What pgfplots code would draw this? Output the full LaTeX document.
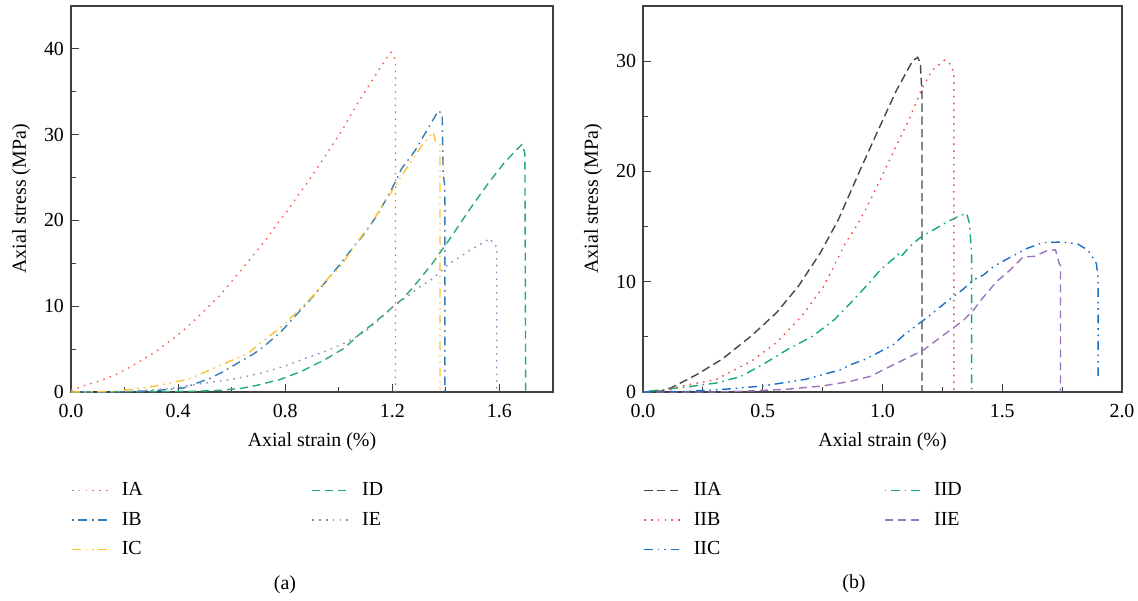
\documentclass[border=0pt]{standalone}
\usepackage{fontspec}
\setmainfont{Liberation Serif}
\usepackage{pgfplots}
\pgfplotsset{compat=1.18}

\definecolor{cIA}{RGB}{240,100,90}
\definecolor{cIB}{RGB}{55,125,180}
\definecolor{cIC}{RGB}{250,195,50}
\definecolor{cID}{RGB}{40,170,115}
\definecolor{cIE}{RGB}{140,140,195}
\definecolor{cIIA}{RGB}{70,70,70}
\definecolor{cIIB}{RGB}{240,80,75}
\definecolor{cIIC}{RGB}{25,110,195}
\definecolor{cIID}{RGB}{20,170,115}
\definecolor{cIIE}{RGB}{155,115,190}

\pgfplotsset{
  panel/.style={
    scale only axis,
    height=193bp,
    ymin=0,
    xmin=0,
    axis line style={black!75, line width=0.6bp},
    every tick/.style={black!75, line width=0.6bp},
    tick align=inside,
    xtick pos=bottom, ytick pos=left,
    minor tick num=1,
    major tick length=4bp, minor tick length=2.5bp,
    font=\fontsize{10}{12}\selectfont,
    tick label style={font=\fontsize{10}{12}\selectfont},
    /pgf/number format/assume math mode=true,
    xticklabel style={yshift=-2.5bp, /pgf/number format/fixed, /pgf/number format/fixed zerofill, /pgf/number format/precision=1},
    xlabel={Axial strain (\%)},
    ylabel={Axial stress (MPa)},
    xlabel style={at={(axis description cs:0.5,0)}, anchor=center, yshift=-25bp},
    ylabel style={at={(axis description cs:0,0.5)}, anchor=center, yshift=25bp},
    legend columns=2,
    legend cell align=left,
    legend style={draw=none, fill=none, inner sep=0pt,
      at={(axis description cs:0,0)}, anchor=north west, yshift=-44.5bp,
      font=\fontsize{10}{12}\selectfont,
      nodes={inner sep=0pt, text height=7bp, text depth=2bp},
      row sep=5.8bp,
      /tikz/every odd column/.append style={column sep=6.5bp}},
    legend image code/.code={\draw[##1] (0bp,0bp) -- (18bp,0bp);},
    every axis plot/.append style={line width=0.7bp},
  },
  sdot/.style={dash pattern=on 0.8bp off 2.6bp},
  sdashdot/.style={dash pattern=on 0.8bp off 2.4bp on 4.4bp off 2.4bp},
  sdashdotdot/.style={dash pattern=on 4.4bp off 2.4bp on 0.8bp off 2.4bp on 0.8bp off 2.4bp},
  sdash/.style={dash pattern=on 4bp off 2.5bp},
}

\begin{document}
\begin{tikzpicture}
\begin{axis}[panel, at={(35.5bp,0bp)}, anchor=south west,
    width=241bp, xmax=1.8, ymax=45,
    xtick={0,0.4,0.8,1.2,1.6}, ytick={0,10,20,30,40}]
  \addplot[cIA, sdot] coordinates {(0,0.2) (0.05,0.75) (0.114,1.35) (0.173,2.1) (0.22,2.9) (0.27,3.8) (0.323,4.85) (0.37,5.97) (0.419,7.17) (0.466,8.5) (0.512,9.9) (0.554,11.2) (0.595,12.7) (0.635,14.2) (0.692,16.4) (0.732,17.9) (0.77,19.6) (0.81,21.2) (0.847,22.9) (0.885,24.5) (0.949,27.5) (1.01,30.4) (1.065,33.4) (1.126,36.4) (1.18,39.0) (1.195,39.6) (1.205,39.2) (1.212,38.6) (1.212,0)};
  \addlegendentry{\makebox[95bp][l]{IA}}
  \addplot[cID, sdash] coordinates {(0,0) (0.35,0.05) (0.45,0.08) (0.56,0.2) (0.64,0.45) (0.69,0.75) (0.78,1.45) (0.86,2.4) (0.95,3.8) (1.02,5.1) (1.08,6.8) (1.13,8.0) (1.19,9.6) (1.24,10.9) (1.28,12.3) (1.35,15.0) (1.42,18.1) (1.5,21.8) (1.56,24.4) (1.62,26.8) (1.685,28.9) (1.695,27.8) (1.698,0)};
  \addlegendentry{ID}
  \addplot[cIB, sdashdot] coordinates {(0,0) (0.2,0.03) (0.31,0.15) (0.42,0.47) (0.52,1.6) (0.57,2.4) (0.635,3.6) (0.685,4.5) (0.72,5.3) (0.785,7.05) (0.847,9.2) (0.897,10.9) (0.947,12.7) (0.997,14.6) (1.047,16.6) (1.097,18.5) (1.147,20.8) (1.197,23.6) (1.234,26.0) (1.284,28.1) (1.346,31.4) (1.372,32.8) (1.386,32.4) (1.39,25.4) (1.396,24) (1.396,0)};
  \addlegendentry{\makebox[95bp][l]{IB}}
  \addplot[cIE, sdot] coordinates {(0,0) (0.2,0.05) (0.3,0.25) (0.4,0.5) (0.46,0.85) (0.547,1.25) (0.622,1.6) (0.71,2.2) (0.797,3.0) (0.872,3.9) (0.947,4.7) (1.022,5.7) (1.097,7.0) (1.16,8.7) (1.2,9.9) (1.25,11.0) (1.3,12.2) (1.35,13.2) (1.41,14.9) (1.484,16.4) (1.565,17.9) (1.58,17.1) (1.59,17.0) (1.59,0)};
  \addlegendentry{IE}
  \addplot[cIC, sdashdotdot] coordinates {(0,0) (0.15,0.05) (0.239,0.35) (0.31,0.66) (0.441,1.5) (0.554,3.06) (0.66,4.5) (0.70,5.5) (0.785,7.6) (0.853,9.6) (0.907,11.3) (0.966,13.45) (1.006,14.6) (1.06,17.1) (1.112,19.3) (1.16,21.5) (1.222,24.6) (1.309,28.7) (1.353,30.3) (1.36,29.3) (1.378,29) (1.378,0)};
  \addlegendentry{\makebox[95bp][l]{IC}}
\end{axis}

\begin{axis}[panel, at={(321.5bp,0bp)}, anchor=south west,
    width=239.5bp, xmax=2, ymax=35,
    xtick={0,0.5,1,1.5,2}, ytick={0,10,20,30}]
  \addplot[cIIA, dash pattern=on 4.2bp off 2.2bp] coordinates {(0,0) (0.08,0.1) (0.12,0.4) (0.226,1.6) (0.332,3.0) (0.453,5.1) (0.558,7.2) (0.649,9.6) (0.74,12.6) (0.815,15.6) (0.906,20.1) (0.981,23.7) (1.057,27.3) (1.125,30.0) (1.147,30.35) (1.158,29.8) (1.165,27) (1.165,0)};
  \addlegendentry{\makebox[95bp][l]{IIA}}
  \addplot[cIID, sdashdot] coordinates {(0,0) (0.075,0.2) (0.196,0.5) (0.302,0.8) (0.408,1.4) (0.513,2.66) (0.604,3.86) (0.709,5.07) (0.8,6.58) (0.879,8.35) (0.949,10.0) (0.99,11.05) (1.046,12.1) (1.065,12.5) (1.075,12.2) (1.09,12.6) (1.129,13.5) (1.164,14.1) (1.213,14.7) (1.268,15.4) (1.324,16.0) (1.351,16.2) (1.363,15.3) (1.368,13.8) (1.372,12.6) (1.372,0)};
  \addlegendentry{IID}
  \addplot[cIIB, sdot] coordinates {(0,0) (0.1,0.1) (0.151,0.5) (0.302,1.1) (0.453,2.8) (0.558,4.5) (0.664,6.9) (0.755,9.6) (0.845,13.5) (0.893,15.1) (0.928,16.5) (0.963,18.0) (0.996,19.5) (1.057,22.3) (1.117,25) (1.162,27.4) (1.208,29.2) (1.26,30.1) (1.28,29.8) (1.298,29) (1.298,0)};
  \addlegendentry{\makebox[95bp][l]{IIB}}
  \addplot[cIIE, sdash] coordinates {(0,0) (0.3,0.0) (0.45,0.1) (0.6,0.25) (0.75,0.55) (0.865,0.96) (0.949,1.42) (1.046,2.47) (1.115,3.2) (1.171,3.8) (1.226,4.7) (1.282,5.6) (1.338,6.5) (1.379,7.4) (1.421,8.6) (1.476,10.0) (1.532,11.05) (1.588,12.26) (1.636,12.3) (1.685,12.8) (1.722,12.9) (1.738,11.65) (1.743,11.5) (1.743,0)};
  \addlegendentry{IIE}
  \addplot[cIIC, sdashdotdot] coordinates {(0,0) (0.15,0.05) (0.302,0.18) (0.498,0.54) (0.679,1.15) (0.83,2.05) (0.865,2.47) (0.921,2.9) (0.976,3.5) (1.046,4.3) (1.09,5.18) (1.201,7.0) (1.268,8.2) (1.333,9.25) (1.379,10.15) (1.421,10.6) (1.465,11.4) (1.532,12.2) (1.601,13.0) (1.671,13.55) (1.754,13.6) (1.817,13.4) (1.858,12.86) (1.893,11.65) (1.9,10.45) (1.9,1.1)};
  \addlegendentry{\makebox[95bp][l]{IIC}}
\end{axis}

\node[font=\fontsize{10}{12}\selectfont] at (142.5bp,-96.5bp) {(a)};
\node[font=\fontsize{10}{12}\selectfont] at (427bp,-96bp) {(b)};
\pgfresetboundingbox
\path[use as bounding box] (0bp,-104.5bp) rectangle (569bp,196bp);
\end{tikzpicture}
\end{document}
